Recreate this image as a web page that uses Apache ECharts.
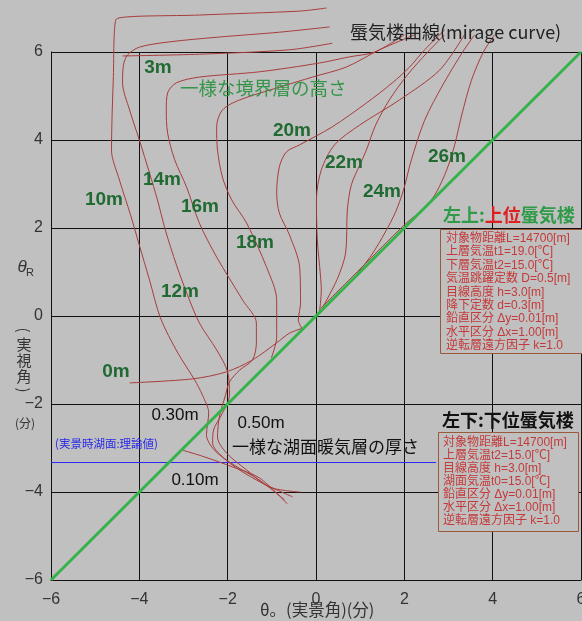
<!DOCTYPE html>
<html>
<head>
<meta charset="utf-8">
<script src="https://cdn.jsdelivr.net/npm/echarts@6/dist/echarts.min.js"></script>
<style>
  html, body { margin: 0; padding: 0; background: #c0c0c0; }
  #chart { width: 582px; height: 621px; }
</style>
</head>
<body>
<div id="chart"></div>
<script>
// Axis range in minutes of arc (θo horizontal, θR vertical)
const axisMin = -6;
const axisMax = 6;
const axisStep = 2;

// Mirage curves [θo, θR] — upper-mirage family (boundary-layer heights)
const curve3mOuter = [[0.24,7.0],[-0.37,6.93],[-2.64,6.84],[-4.52,6.75],[-4.59,5.36],[-4.63,3.77],[-4.45,3.09],[-4.20,2.30],[-4.00,1.61],[-3.77,0.82],[-3.52,-0.05],[-3.14,-0.82],[-2.75,-1.45],[-2.57,-1.80],[-2.43,-2.20],[-2.48,-2.70],[-2.30,-3.05],[-1.85,-3.39],[-1.28,-3.73],[-0.71,-4.18]];
const curve3m = [[0.31,6.57],[-0.83,6.45],[-2.19,6.34],[-3.32,6.23],[-4.00,6.11],[-4.27,5.93],[-4.36,5.70],[-4.38,5.30],[-4.22,4.68],[-4.00,4.00],[-3.77,3.25],[-3.59,2.64],[-3.41,1.95],[-3.16,1.16],[-2.91,0.48],[-2.64,-0.16],[-2.25,-0.77],[-2.00,-1.27],[-1.96,-1.80],[-2.14,-2.25],[-2.32,-2.59],[-2.34,-2.89],[-2.12,-3.20],[-1.73,-3.50],[-1.21,-3.80],[-0.53,-4.11]];
const curveTop = [[-4.38,5.91],[-2.64,5.95],[-0.60,6.05],[0.37,6.20]];
const curve16m = [[2.00,6.39],[1.33,6.00],[0.76,5.89],[0.08,5.75],[-1.28,5.55],[-2.64,5.43],[-3.16,5.30],[-3.36,5.07],[-3.39,4.68],[-3.36,4.16],[-3.20,3.55],[-2.93,2.93],[-2.64,2.11],[-2.25,1.34],[-1.66,0.36],[-1.35,-0.16],[-1.35,-0.61],[-1.44,-1.00],[-1.73,-1.23],[-1.96,-1.50],[-2.05,-1.80],[-2.19,-2.30],[-2.23,-2.75],[-2.03,-3.11],[-1.57,-3.50],[-1.05,-3.89],[-0.37,-4.0]];
const curve18m = [[2.23,6.39],[1.44,6.05],[0.69,5.66],[-0.08,5.43],[-0.83,5.20],[-1.73,4.91],[-2.12,4.68],[-2.25,4.30],[-2.23,3.77],[-2.12,3.16],[-1.91,2.64],[-1.57,2.11],[-1.12,1.11],[-0.89,0.36],[-0.89,-0.48],[-1.01,-0.95]];
const curve20m = [[2.91,6.50],[2.46,6.05],[2.12,5.66],[1.73,5.30],[1.14,4.84],[0.37,4.30],[-0.37,3.89],[-0.67,3.73],[-0.83,3.39],[-0.89,2.80],[-0.83,2.34],[-0.60,1.84],[-0.37,1.11],[-0.35,0.30],[-0.40,-0.09],[-0.31,-0.30]];
const curve21m = [[3.36,6.39],[2.80,5.59],[1.89,4.91],[0.99,4.34],[0.42,3.89],[0.12,3.32],[0.01,2.64],[0.03,1.73],[0.10,0.93],[0.12,0.59],[0.08,0.09]];
const curve22m = [[2.91,6.39],[2.53,6.00],[2.07,5.48],[1.66,4.91],[1.35,4.34],[1.14,3.77],[0.99,3.43],[0.80,2.98],[0.71,2.41],[0.67,1.43],[0.49,0.86],[0.24,0.36],[0.15,0.20]];
const curve24m = [[3.59,6.39],[3.32,6.00],[2.87,5.25],[2.46,4.45],[2.16,3.55],[1.98,2.86],[1.80,2.36],[1.57,1.91],[1.26,1.39],[0.89,0.91]];
const curve26m = [[4.04,6.39],[3.79,6.00],[3.52,5.36],[3.30,4.57],[3.14,3.89],[2.96,3.32],[2.73,2.82],[2.50,2.50],[2.0,2.07],[1.0,1.07],[0.1,0.17]];
const curve0m = [[-4.22,-1.52],[-2.80,-1.43],[-2.03,-1.27],[-1.44,-1.00],[-0.89,-0.61],[-0.60,-0.39],[-0.28,-0.27]];
// Lower-mirage family (warm layer over the lake)
const curveLake010 = [[-3.02,-3.05],[-2.53,-3.20],[-1.89,-3.43],[-1.28,-3.68],[-0.65,-4.27]];

// Reference lines
const noMirageLine = [[-6,-6],[6,6]];
const lakeSurfaceAngle = -3.33;
const lakeLineEnd = 2.72;

const mirageCurves = [curve3mOuter, curve3m, curveTop, curve16m, curve18m, curve20m, curve21m,
                      curve22m, curve24m, curve26m, curve0m, curveLake010];

const RED = '#a83c3c';
const DARK_GREEN = '#216b33';
const LATIN = "'Liberation Sans', Arial, sans-serif";
const CJK = "'Noto Sans CJK JP', 'Noto Sans', sans-serif";
const MIXED = "'Liberation Sans', 'Noto Sans CJK JP', sans-serif";

const chart = echarts.init(document.getElementById('chart'), null, { renderer: 'canvas' });

const minusFmt = v => (v < 0 ? '\u2212' + Math.abs(v) : String(v));

function txt(x, y, text, font, fill, align) {
  return {
    type: 'text', x: x, y: y, z: 100,
    style: { text: text, font: font, fill: fill, align: align || 'center', verticalAlign: 'middle' }
  };
}

const heightLabelFont = 'bold 19px ' + LATIN;
const lakeLabelFont = '17px ' + LATIN;

const upperBoxLines = [
  '対象物距離L=14700[m]',
  '上層気温t1=19.0[℃]',
  '下層気温t2=15.0[℃]',
  '気温跳躍定数 D=0.5[m]',
  '目線高度 h=3.0[m]',
  '降下定数 d=0.3[m]',
  '鉛直区分 Δy=0.01[m]',
  '水平区分 Δx=1.00[m]',
  '逆転層遠方因子 k=1.0'
];
const lowerBoxLines = [
  '対象物距離L=14700[m]',
  '上層気温t2=15.0[℃]',
  '目線高度 h=3.0[m]',
  '湖面気温t0=15.0[℃]',
  '鉛直区分 Δy=0.01[m]',
  '水平区分 Δx=1.00[m]',
  '逆転層遠方因子 k=1.0'
];

const graphics = [
  // title
  txt(350, 32, '蜃気楼曲線(mirage curve)', '18px ' + CJK, '#222', 'left'),
  txt(180, 88, '一様な境界層の高さ', '18.5px ' + CJK, '#35964a', 'left'),
  // boundary-layer height labels
  txt(158, 68, '3m', heightLabelFont, DARK_GREEN),
  txt(104, 200, '10m', heightLabelFont, DARK_GREEN),
  txt(162, 180, '14m', heightLabelFont, DARK_GREEN),
  txt(200, 207, '16m', heightLabelFont, DARK_GREEN),
  txt(180, 292, '12m', heightLabelFont, DARK_GREEN),
  txt(255, 243, '18m', heightLabelFont, DARK_GREEN),
  txt(292, 131, '20m', heightLabelFont, DARK_GREEN),
  txt(344, 163, '22m', heightLabelFont, DARK_GREEN),
  txt(382, 192, '24m', heightLabelFont, DARK_GREEN),
  txt(447, 157, '26m', heightLabelFont, DARK_GREEN),
  txt(116, 372, '0m', heightLabelFont, DARK_GREEN),
  // warm-layer thickness labels
  txt(175, 415, '0.30m', lakeLabelFont, '#111'),
  txt(261, 423, '0.50m', lakeLabelFont, '#111'),
  txt(195, 480, '0.10m', lakeLabelFont, '#111'),
  txt(232, 447, '一様な湖面暖気層の厚さ', '17px ' + CJK, '#111', 'left'),
  txt(55, 444, '(実景時湖面:理論値)', '11.5px ' + CJK, '#2a2ae6', 'left'),
  // section headings
  {
    type: 'text', x: 443, y: 215, z: 100,
    style: {
      text: '{g|左上:}{r|上位}{g|蜃気楼}', verticalAlign: 'middle', align: 'left',
      rich: {
        g: { fill: '#2f9a48', font: 'bold 18px ' + CJK },
        r: { fill: '#e02020', font: 'bold 18px ' + CJK }
      }
    }
  },
  txt(442, 420, '左下:下位蜃気楼', 'bold 18px ' + CJK, '#111', 'left'),
  // parameter boxes
  {
    type: 'rect', z: 100,
    shape: { x: 440.5, y: 229.5, width: 145, height: 124 },
    style: { fill: '#c0c0c0', stroke: '#9a5a3a', lineWidth: 1 }
  },
  {
    type: 'text', x: 446, y: 232, z: 101,
    style: { text: upperBoxLines.join('\n'), font: '12px ' + MIXED, fill: '#c43a3a', lineHeight: 13.4, align: 'left', verticalAlign: 'top' }
  },
  {
    type: 'rect', z: 100,
    shape: { x: 438.5, y: 432.5, width: 140, height: 99 },
    style: { fill: '#c0c0c0', stroke: '#9a5a3a', lineWidth: 1 }
  },
  {
    type: 'text', x: 443, y: 436.5, z: 101,
    style: { text: lowerBoxLines.join('\n'), font: '12px ' + MIXED, fill: '#c43a3a', lineHeight: 13, align: 'left', verticalAlign: 'top' }
  },
  // vertical axis name
  txt(22, 267, 'θ', 'italic 17px ' + LATIN, '#333'),
  txt(30, 273, 'R', '11px ' + LATIN, '#333'),
  { type: 'text', x: 24, y: 330, z: 100, rotation: -Math.PI / 2,
    style: { text: '(', font: '15px ' + CJK, fill: '#333', align: 'center', verticalAlign: 'middle' } },
  txt(24, 344, '実', '15px ' + CJK, '#333'),
  txt(24, 360, '視', '15px ' + CJK, '#333'),
  txt(24, 376, '角', '15px ' + CJK, '#333'),
  { type: 'text', x: 24, y: 390, z: 100, rotation: -Math.PI / 2,
    style: { text: ')', font: '15px ' + CJK, fill: '#333', align: 'center', verticalAlign: 'middle' } },
  txt(25, 423, '(分)', '12px ' + CJK, '#333'),
  // horizontal axis name
  txt(260, 610, 'θ。(実景角)(分)', '16.5px ' + CJK, '#333', 'left')
];

const series = mirageCurves.map(d => ({
  type: 'line', data: d, clip: false, smooth: 0.3, symbol: 'none', showSymbol: false,
  silent: true, z: 3, lineStyle: { color: RED, width: 1 }
}));
series.push({
  type: 'line', data: [[axisMin, lakeSurfaceAngle], [lakeLineEnd, lakeSurfaceAngle]],
  symbol: 'none', silent: true, z: 2, lineStyle: { color: '#2a2af0', width: 1 }
});
series.push({
  type: 'line', data: noMirageLine, symbol: 'none', silent: true, z: 4,
  lineStyle: { color: '#33b34a', width: 3 }
});

const axisCommon = {
  type: 'value', min: axisMin, max: axisMax, interval: axisStep,
  axisLine: { show: true, onZero: false, lineStyle: { color: '#111', width: 1 } },
  axisTick: { show: false },
  splitLine: { show: true, showMinLine: true, showMaxLine: true, lineStyle: { color: '#111', width: 1 } },
  splitArea: { show: false }
};

chart.setOption({
  backgroundColor: '#c0c0c0',
  animation: false,
  grid: { left: 51, top: 52, width: 530, height: 528, containLabel: false, outerBoundsMode: 'none' },
  xAxis: Object.assign({}, axisCommon, {
    axisLabel: { margin: 12, fontSize: 16, color: '#333', fontFamily: LATIN, formatter: minusFmt }
  }),
  yAxis: Object.assign({}, axisCommon, {
    axisLabel: { margin: 8, fontSize: 16, color: '#333', fontFamily: LATIN, formatter: minusFmt }
  }),
  series: series,
  graphic: { elements: graphics }
});
</script>
</body>
</html>
